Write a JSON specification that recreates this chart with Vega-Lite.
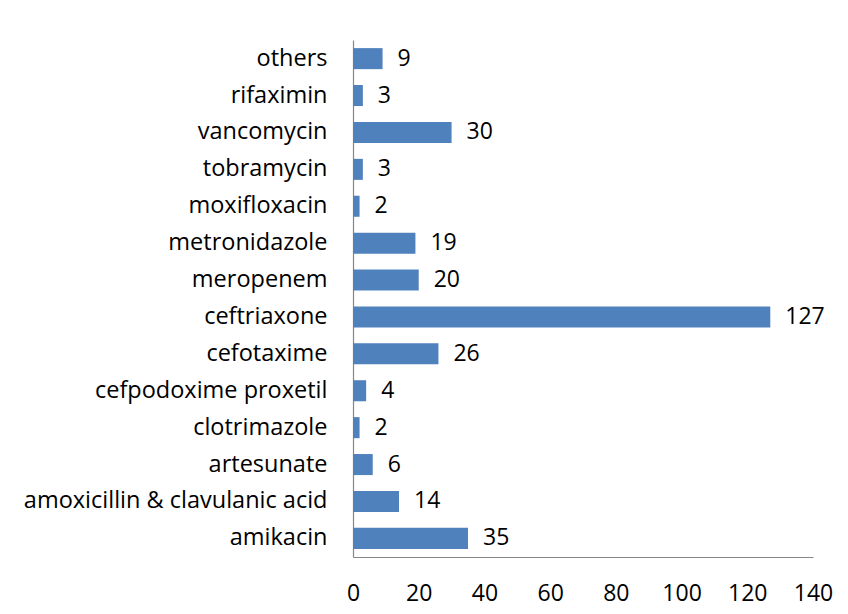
{
  "$schema": "https://vega.github.io/schema/vega-lite/v6.json",
  "autosize": {"type": "none"},
  "padding": {"left": 353, "top": 40, "right": 35, "bottom": 57},
  "width": 460,
  "height": 517,
  "background": "white",
  "config": {
    "view": {"stroke": null},
    "font": "Open Sans"
  },
  "data": {
    "values": [
      {"drug": "others", "count": 9},
      {"drug": "rifaximin", "count": 3},
      {"drug": "vancomycin", "count": 30},
      {"drug": "tobramycin", "count": 3},
      {"drug": "moxifloxacin", "count": 2},
      {"drug": "metronidazole", "count": 19},
      {"drug": "meropenem", "count": 20},
      {"drug": "ceftriaxone", "count": 127},
      {"drug": "cefotaxime", "count": 26},
      {"drug": "cefpodoxime proxetil", "count": 4},
      {"drug": "clotrimazole", "count": 2},
      {"drug": "artesunate", "count": 6},
      {"drug": "amoxicillin & clavulanic acid", "count": 14},
      {"drug": "amikacin", "count": 35}
    ]
  },
  "encoding": {
    "y": {
      "field": "drug", "type": "nominal", "sort": null,
      "scale": {"paddingInner": 0.43, "paddingOuter": 0.22},
      "axis": {
        "title": null, "ticks": false, "domainColor": "#868686", "domainWidth": 1.2,
        "labelFontSize": 23.5, "labelColor": "#000000", "labelPadding": 26, "labelLimit": 400
      }
    },
    "x": {
      "field": "count", "type": "quantitative",
      "scale": {"domain": [0, 140], "nice": false},
      "axis": {
        "title": null, "values": [0, 20, 40, 60, 80, 100, 120, 140], "grid": false, "ticks": false,
        "domainColor": "#868686", "domainWidth": 1.2,
        "labelFontSize": 23, "labelColor": "#000000", "labelPadding": 25, "labelFlush": false
      }
    }
  },
  "layer": [
    {"mark": {"type": "bar", "color": "#4F81BD"}},
    {
      "mark": {"type": "text", "align": "left", "dx": 15, "fontSize": 23, "color": "#000000"},
      "encoding": {"text": {"field": "count", "type": "quantitative"}}
    }
  ]
}
